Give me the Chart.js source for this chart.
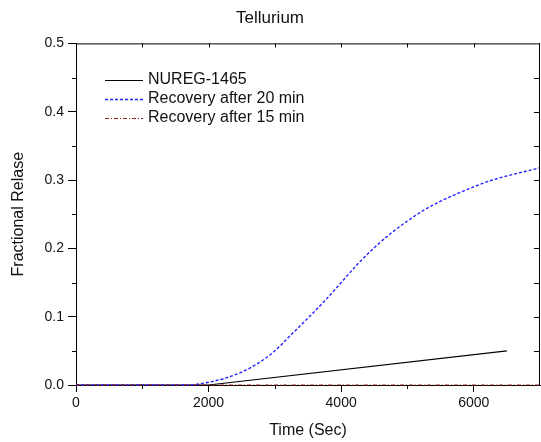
<!DOCTYPE html>
<html><head><meta charset="utf-8">
<script src="https://cdn.jsdelivr.net/npm/chart.js@4/dist/chart.umd.min.js"></script>
<style>html,body{margin:0;padding:0;background:#fff}#wrap{width:541px;height:442px}</style>
</head><body><div id="wrap"><canvas id="c" width="541" height="442"></canvas></div>
<script>
const chartTitle = 'Tellurium';
const xTitle = 'Time (Sec)';
const yTitle = 'Fractional Relase';
const seriesLabels = ['NUREG-1465', 'Recovery after 20 min', 'Recovery after 15 min'];
const xMajorTicks = [0, 2000, 4000, 6000];
const xMinorTicks = [1000, 3000, 5000];
const xTopTicks = [1000, 2000, 3000, 4000, 5000, 6000];
const yMajorTicks = [0, 0.1, 0.2, 0.3, 0.4, 0.5];
const yMinorTicks = [0.05, 0.15, 0.25, 0.35, 0.45];
const yRightTicks = [0.05, 0.1, 0.15, 0.2, 0.25, 0.3, 0.35, 0.4, 0.45];

const nuregTime = [0, 2000, 6500];
const nuregValue = [0, 0, 0.05];
const rec20Time = [0, 1000, 1700, 2000, 2250, 2500, 2750, 3000, 3250, 3500, 3750, 4000, 4250, 4500, 4750, 5000, 5250, 5500, 5750, 6000, 6250, 6500, 6750, 7000];
const rec20Value = [0, 0, 0, 0.004, 0.010, 0.019, 0.032, 0.050, 0.074, 0.098, 0.123, 0.150, 0.177, 0.201, 0.222, 0.240, 0.256, 0.269, 0.280, 0.290, 0.299, 0.306, 0.312, 0.318];
const rec15Time = [0, 7000];
const rec15Value = [0, 0];

const FONT = "'Liberation Sans', Arial, sans-serif";
const pts = (xs, ys) => xs.map((x, i) => ({x: x, y: ys[i]}));

const framePlugin = {
  id: 'frame',
  afterDraw(chart) {
    const ctx = chart.ctx, a = chart.chartArea;
    const xs = chart.scales.x, ys = chart.scales.y;
    ctx.save();
    ctx.strokeStyle = '#000';
    ctx.lineWidth = 1;
    ctx.beginPath();
    ctx.moveTo(a.left, a.top + 0.5); ctx.lineTo(a.right, a.top + 0.5);
    ctx.moveTo(a.right - 0.5, a.top); ctx.lineTo(a.right - 0.5, a.bottom);
    xMinorTicks.forEach(v => { const p = Math.round(xs.getPixelForValue(v)) + 0.5; ctx.moveTo(p, a.bottom); ctx.lineTo(p, a.bottom + 4); });
    xTopTicks.forEach(v => { const p = Math.round(xs.getPixelForValue(v)) + 0.5; ctx.moveTo(p, a.top); ctx.lineTo(p, a.top + 4); });
    yMinorTicks.forEach(v => { const p = Math.round(ys.getPixelForValue(v)) + 0.5; ctx.moveTo(a.left, p); ctx.lineTo(a.left - 4, p); });
    yRightTicks.forEach(v => { const p = Math.round(ys.getPixelForValue(v)) + 0.5; ctx.moveTo(a.right, p); ctx.lineTo(a.right - 6, p); });
    ctx.stroke();

    ctx.font = '16px ' + FONT;
    ctx.textBaseline = 'middle';
    ctx.textAlign = 'left';
    chart.data.datasets.forEach((ds, i) => {
      const y = 80 + i * 19;
      ctx.save();
      ctx.strokeStyle = ds.borderColor;
      ctx.lineWidth = ds.borderWidth;
      ctx.setLineDash(ds.borderDash || []);
      ctx.beginPath();
      ctx.moveTo(105, y + 0.5); ctx.lineTo(143, y + 0.5);
      ctx.stroke();
      ctx.restore();
      ctx.fillStyle = '#111';
      ctx.fillText(ds.label, 148, y);
    });
    ctx.restore();
  }
};

new Chart(document.getElementById('c'), {
  type: 'line',
  data: {
    datasets: [
      {label: seriesLabels[0], data: pts(nuregTime, nuregValue), borderColor: '#000000', borderWidth: 1.2, pointRadius: 0, tension: 0, order: 2, clip: false},
      {label: seriesLabels[1], data: pts(rec20Time, rec20Value), borderColor: '#2222FF', borderWidth: 1.4, borderDash: [3, 2], pointRadius: 0, cubicInterpolationMode: 'monotone', order: 1, clip: false},
      {label: seriesLabels[2], data: pts(rec15Time, rec15Value), borderColor: '#8B1A1A', borderWidth: 1.2, borderDash: [4, 2, 1, 2], pointRadius: 0, order: 0, clip: false}
    ]
  },
  options: {
    responsive: false,
    animation: false,
    devicePixelRatio: 1,
    layout: {padding: {left: 0, right: 1, top: 0, bottom: 0}},
    plugins: {
      legend: {display: false},
      tooltip: {enabled: false},
      title: {display: true, text: chartTitle, color: '#111', font: {family: FONT, size: 17, weight: 'normal'}, padding: {top: 8, bottom: 15}}
    },
    scales: {
      x: {
        type: 'linear', min: 0, max: 7000,
        afterBuildTicks: s => { s.ticks = xMajorTicks.map(v => ({value: v})); },
        afterFit: s => { s.height = 57; },
        grid: {display: true, drawOnChartArea: false, drawTicks: true, tickLength: 7, color: '#000'},
        border: {display: true, color: '#000', width: 1},
        ticks: {color: '#111', font: {family: FONT, size: 14}, padding: 3, maxRotation: 0, callback: v => String(v)},
        title: {display: true, text: xTitle, color: '#111', font: {family: FONT, size: 16}, padding: {top: 0, bottom: 2}}
      },
      y: {
        type: 'linear', min: 0, max: 0.5,
        afterBuildTicks: s => { s.ticks = yMajorTicks.map(v => ({value: v})); },
        afterFit: s => { s.width = 76; },
        grid: {display: true, drawOnChartArea: false, drawTicks: true, tickLength: 8, color: '#000'},
        border: {display: true, color: '#000', width: 1},
        ticks: {color: '#111', font: {family: FONT, size: 14}, padding: 4, callback: v => Number(v).toFixed(1)},
        title: {display: true, text: yTitle, color: '#111', font: {family: FONT, size: 16}, padding: {top: 9, bottom: 0}}
      }
    }
  },
  plugins: [framePlugin]
});
</script>
</body></html>
